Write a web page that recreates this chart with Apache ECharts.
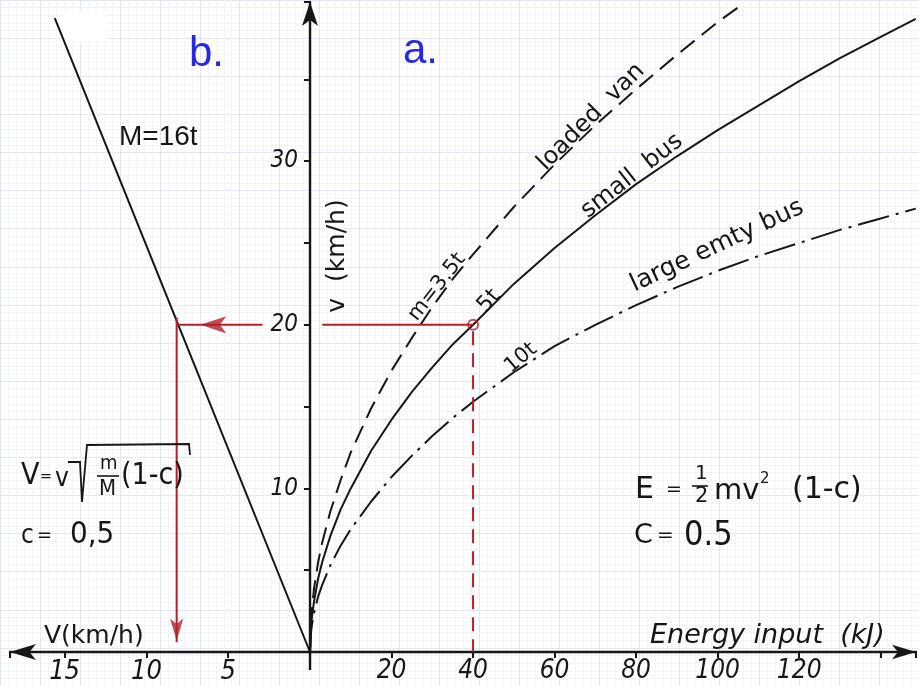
<!DOCTYPE html>
<html>
<head>
<meta charset="utf-8">
<script src="https://cdn.jsdelivr.net/npm/echarts@6/dist/echarts.min.js"></script>
<style>
  html, body { margin: 0; padding: 0; background: #ffffff; }
  #chart { width: 919px; height: 686px; }
</style>
</head>
<body>
<div id="chart"></div>
<script>
// ---- data -------------------------------------------------------------
// Panel a: energy input (kJ) needed to reach speed v (km/h), c = 0.5
const energyTicks = [20, 40, 60, 80, 100, 120];
const speedTicks = [10, 20, 30];
// Panel b: resulting speed V (km/h) of the 16 t vehicle
const vTicks = [5, 10, 15];

const loadedVan = [[0, 0], [0.25, 1.9], [0.5, 2.7], [1, 3.9], [2, 5.5], [3, 6.7], [5, 8.6],
  [7.5, 10.5], [10, 12.2], [15, 14.9], [20, 17.2], [25, 19.2], [30, 21.1], [35, 22.8],
  [40, 24.3], [50, 27.2], [60, 29.8], [70, 32.2], [80, 34.4], [90, 36.5], [100, 38.5], [105, 39.4]];
const smallBus = [[0, 0], [0.25, 1.6], [0.5, 2.2], [1, 3.1], [2, 4.5], [3, 5.5], [5, 7.1],
  [7.5, 8.7], [10, 10.0], [15, 12.3], [20, 14.2], [25, 15.9], [30, 17.4], [35, 18.8],
  [40, 20.0], [50, 22.5], [60, 24.7], [70, 26.7], [80, 28.6], [90, 30.3], [100, 31.9],
  [110, 33.4], [120, 34.9], [130, 36.3], [140, 37.6], [148.6, 38.7]];
const largeBus = [[0, 0], [0.25, 1.2], [0.5, 1.7], [1, 2.4], [2, 3.4], [3, 4.1], [5, 5.3],
  [7.5, 6.5], [10, 7.5], [15, 9.2], [20, 10.7], [25, 12.0], [30, 13.2], [35, 14.3],
  [40, 15.3], [50, 17.1], [60, 18.7], [70, 20.0], [80, 21.2], [90, 22.3], [100, 23.3],
  [110, 24.2], [120, 25.0], [130, 25.8], [140, 26.5], [148.6, 27.1]];
const heavyLine = [[0, 0], [8.05, 20], [15.6, 38.75]];   // M = 16t

// worked example: 5t bus, 40 kJ -> v = 20 km/h -> V ≈ 8.1 km/h
const exEnergy = 40;
const exSpeed = 20;
const exV = 8.15;

// ---- layout -----------------------------------------------------------
const X0 = 310, Y0 = 652;          // origin of both panels (px)
const PX_KMH = 16.36;              // px per km/h
const PX_KJ = PX_KMH / 4;          // 20 kJ spans the same as 5 km/h
const LEFT = 10, RIGHT = 918, TOP = 2;
const yMax = (Y0 - TOP) / PX_KMH;
const vMax = (X0 - LEFT) / PX_KMH;
const eMax = (RIGHT - X0) / PX_KJ;

const ink = '#161616';
const red = '#b3202a';
const blue = '#2828e4';
const cond = "'DejaVu Sans Condensed','DejaVu Sans',sans-serif";
const hand = "'DejaVu Sans',sans-serif";
const plain = "'Liberation Sans',Arial,sans-serif";

const chart = echarts.init(document.getElementById('chart'), null, { renderer: 'canvas' });

const axisLineStyle = { color: ink, width: 2.4 };

// plain text, left aligned, vertically centred on y
function t(x, y, text, font) {
  return {
    type: 'text', x: x, y: y, z: 20,
    style: { text: text, fill: ink, font: font, align: 'left', verticalAlign: 'middle' }
  };
}
// text centred on (x, y), turned by deg (counter-clockwise)
function rt(x, y, text, font, deg) {
  return {
    type: 'text', x: x, y: y, rotation: deg * Math.PI / 180, z: 20,
    style: { text: text, fill: ink, font: font, align: 'center', verticalAlign: 'middle' }
  };
}
function seg(points, w) {
  return { type: 'polyline', z: 20, shape: { points: points }, style: { stroke: ink, lineWidth: w || 1.8, fill: null } };
}

const paperMajor = { show: true, lineStyle: { color: '#e2e6ee', width: 1 } };
const paperMinor = { show: true, lineStyle: { color: '#f2f4f8', width: 1 } };

const option = {
  backgroundColor: '#ffffff',
  animation: false,
  grid: [
    // graph paper
    { left: X0 - 80 * PX_KJ, top: Y0 - 42.5 * PX_KMH, width: 230 * PX_KJ, height: 45 * PX_KMH },
    // panel b
    { left: LEFT, top: TOP, width: X0 - LEFT, height: Y0 - TOP },
    // panel a
    { left: X0, top: TOP, width: RIGHT - X0, height: Y0 - TOP }
  ],
  xAxis: [
    {
      gridIndex: 0, type: 'value', min: -80, max: 150, interval: 10, z: 0,
      axisLine: { show: false }, axisTick: { show: false }, axisLabel: { show: false },
      splitLine: paperMajor, minorTick: { show: false, splitNumber: 5 }, minorSplitLine: paperMinor
    },
    {
      gridIndex: 1, type: 'value', min: 0, max: vMax, interval: 5, inverse: true, z: 5,
      axisLine: { show: true, symbol: ['arrow', 'none'], symbolSize: [12, 26], lineStyle: axisLineStyle },
      axisTick: { show: true, length: 6, lineStyle: { color: ink, width: 2 } },
      axisLabel: {
        margin: 6, color: ink, fontSize: 27, fontStyle: 'italic', fontFamily: cond,
        formatter: v => (vTicks.indexOf(v) >= 0 ? String(v) : '')
      },
      splitLine: { show: false }
    },
    {
      gridIndex: 2, type: 'value', min: 0, max: eMax, interval: 20, z: 5,
      axisLine: { show: true, symbol: ['none', 'arrow'], symbolSize: [11, 24], lineStyle: axisLineStyle },
      axisTick: { show: true, length: 6, lineStyle: { color: ink, width: 2 } },
      axisLabel: {
        margin: 6, color: ink, fontSize: 26, fontStyle: 'italic', fontFamily: cond,
        formatter: v => (energyTicks.indexOf(v) >= 0 ? String(v) : '')
      },
      splitLine: { show: false }
    }
  ],
  yAxis: [
    {
      gridIndex: 0, type: 'value', min: -2.5, max: 42.5, interval: 2.5, z: 0,
      axisLine: { show: false }, axisTick: { show: false }, axisLabel: { show: false },
      splitLine: paperMajor, minorTick: { show: false, splitNumber: 5 }, minorSplitLine: paperMinor
    },
    {
      gridIndex: 1, type: 'value', min: 0, max: yMax, interval: 5, show: false,
      splitLine: { show: false }
    },
    {
      gridIndex: 2, type: 'value', min: 0, max: yMax, interval: 5, z: 5,
      axisLine: { show: true, symbol: ['none', 'arrow'], symbolSize: [12, 24], lineStyle: axisLineStyle },
      axisTick: { show: true, length: 6, lineStyle: { color: ink, width: 2 } },
      axisLabel: {
        margin: 12, color: ink, fontSize: 24, fontStyle: 'italic', fontFamily: cond,
        formatter: v => (speedTicks.indexOf(v) >= 0 ? String(v) : '')
      },
      splitLine: { show: false }
    }
  ],
  series: [
    // panel a curves
    {
      type: 'line', name: 'loaded van', xAxisIndex: 2, yAxisIndex: 2, data: loadedVan,
      showSymbol: false, z: 4, lineStyle: { color: ink, width: 2, type: [18, 9] }
    },
    {
      type: 'line', name: 'small bus', xAxisIndex: 2, yAxisIndex: 2, data: smallBus,
      showSymbol: false, z: 4, lineStyle: { color: ink, width: 2 }
    },
    {
      type: 'line', name: 'large emty bus', xAxisIndex: 2, yAxisIndex: 2, data: largeBus,
      showSymbol: false, z: 4, lineStyle: { color: ink, width: 2, type: [32, 7, 3, 7] }
    },
    // panel b line
    {
      type: 'line', name: 'M=16t', xAxisIndex: 1, yAxisIndex: 1, data: heavyLine,
      showSymbol: false, z: 4, lineStyle: { color: ink, width: 2 }
    },
    // worked example (red)
    {
      type: 'line', xAxisIndex: 2, yAxisIndex: 2, data: [[3, exSpeed], [exEnergy, exSpeed]],
      showSymbol: false, z: 6, lineStyle: { color: red, width: 2 }
    },
    {
      type: 'line', xAxisIndex: 2, yAxisIndex: 2, data: [[exEnergy, exSpeed - 0.4], [exEnergy, 0]],
      showSymbol: false, z: 6, lineStyle: { color: red, width: 2, type: [14, 8] }
    },
    {
      type: 'scatter', xAxisIndex: 2, yAxisIndex: 2, data: [[exEnergy, exSpeed]],
      symbol: 'circle', symbolSize: 10, z: 7,
      itemStyle: { color: 'rgba(0,0,0,0)', borderColor: red, borderWidth: 2 }
    },
    {
      type: 'line', xAxisIndex: 1, yAxisIndex: 1, data: [[2.9, exSpeed], [exV, exSpeed]],
      showSymbol: false, z: 6, lineStyle: { color: red, width: 2 }
    },
    {
      type: 'line', xAxisIndex: 1, yAxisIndex: 1, data: [[exV, exSpeed + 0.45], [exV, 0.6]],
      showSymbol: false, z: 6, lineStyle: { color: red, width: 2 }
    },
    {
      type: 'scatter', xAxisIndex: 1, yAxisIndex: 1, data: [[6.7, exSpeed]],
      symbol: 'arrow', symbolRotate: 90, symbolSize: [13, 26], z: 7,
      itemStyle: { color: red }
    },
    {
      type: 'scatter', xAxisIndex: 1, yAxisIndex: 1, data: [[exV, 0.7]],
      symbol: 'arrow', symbolRotate: 180, symbolSize: [10, 22], z: 7,
      itemStyle: { color: red }
    }
  ],
  graphic: [
    // erased corner of the paper
    { type: 'rect', z: 1, shape: { x: 64, y: 11, width: 42, height: 31 },
      style: { fill: '#ffffff', shadowBlur: 6, shadowColor: '#ffffff' } },
    // the vertical axis runs on a little below the origin
    seg([[X0, Y0], [X0, Y0 + 18]], 2.4),

    // panel letters
    { type: 'text', x: 189, y: 54, z: 20, style: { text: 'b.', fill: blue, font: '42px ' + plain, verticalAlign: 'middle' } },
    { type: 'text', x: 403, y: 51, z: 20, style: { text: 'a.', fill: blue, font: '42px ' + plain, verticalAlign: 'middle' } },
    { type: 'text', x: 119, y: 137, z: 20, style: { text: 'M=16t', fill: ink, font: '28px ' + plain, verticalAlign: 'middle' } },

    // axis titles
    t(44, 636, 'V(km/h)', '25px ' + hand),
    t(650, 636, 'Energy input  (kJ)', 'italic 27px ' + hand),
    rt(337, 256, 'v  (km/h)', '25px ' + hand, 90),

    // curve labels
    rt(591, 117, 'loaded  van', '24px ' + hand, 45),
    rt(632, 176, 'small  bus', '24px ' + hand, 38),
    rt(717, 246, 'large emty bus', '25px ' + hand, 25),
    rt(437, 287, 'm=3.5t', '21px ' + hand, 52),
    rt(489, 301, '5t', '22px ' + hand, 48),
    rt(521, 358, '10t', '21px ' + hand, 40),

    // V = v * sqrt(m/M (1-c))
    t(21, 476, 'V', '30px ' + cond),
    t(40, 477, '=', '16px ' + cond),
    t(55, 479, 'v', '26px ' + cond),
    seg([[68, 462], [80, 462], [82, 502], [87, 445], [189, 444], [190, 455]]),
    t(100, 464, 'm', '20px ' + cond),
    seg([[97, 476], [119, 476]], 1.6),
    t(99, 489, 'M', '22px ' + cond),
    t(121, 476, '(1-c)', '30px ' + cond),
    t(21, 536, 'c', '26px ' + cond),
    t(37, 536, '=', '20px ' + cond),
    t(70, 535, '0,5', '31px ' + cond),

    // E = 1/2 m v^2 (1-c)
    t(635, 490, 'E', '30px ' + hand),
    t(666, 490, '=', '19px ' + hand),
    t(695, 474, '1', '20px ' + hand),
    seg([[692, 486], [708, 486]], 1.6),
    t(695, 497, '2', '21px ' + hand),
    t(714, 491, 'mv', '29px ' + hand),
    t(760, 479, '2', '15px ' + hand),
    t(792, 490, '(1-c)', '30px ' + hand),
    t(634, 536, 'C', '27px ' + hand),
    t(657, 536, '=', '20px ' + hand),
    t(684, 536, '0.5', '34px ' + cond)
  ]
};

chart.setOption(option);
</script>
</body>
</html>
